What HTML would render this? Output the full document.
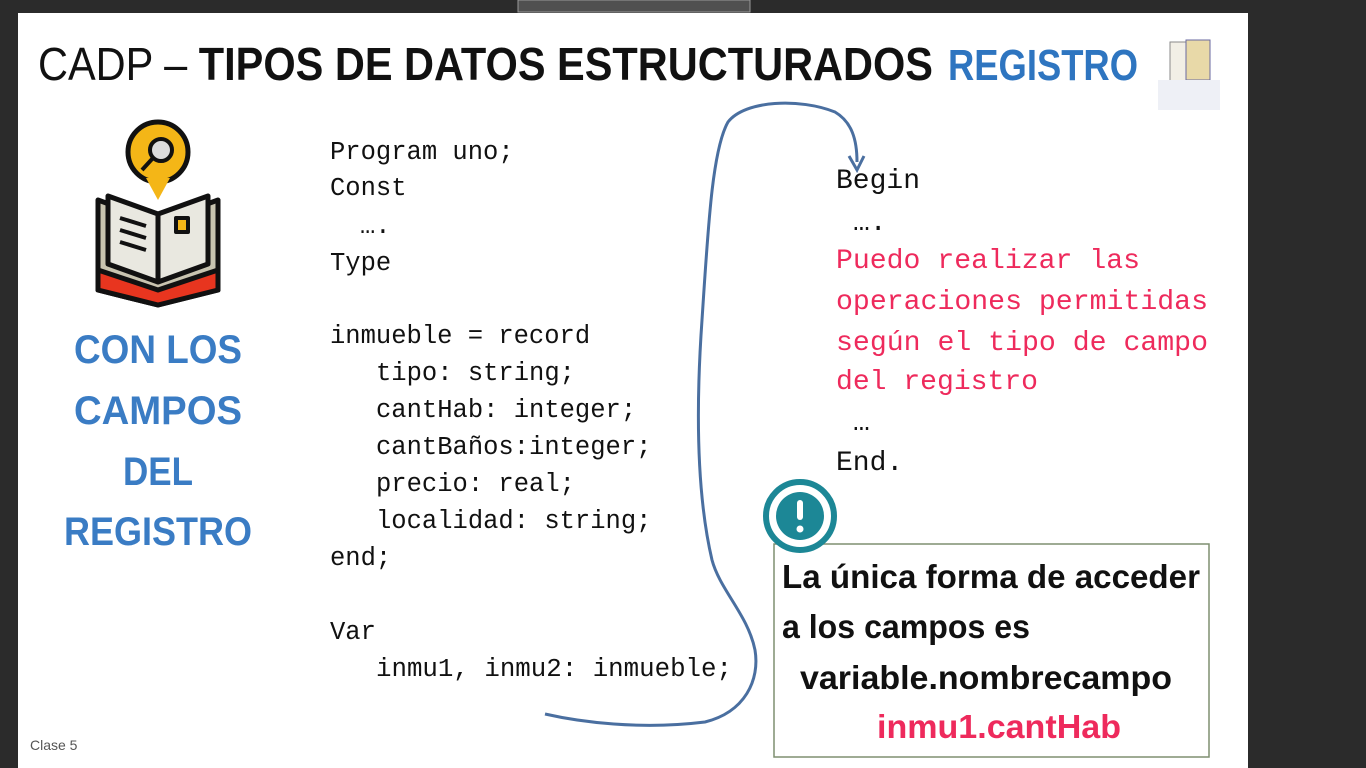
<!DOCTYPE html>
<html><head><meta charset="utf-8"><style>
html,body{margin:0;padding:0;background:#2b2b2b;width:1366px;height:768px;overflow:hidden}
svg{display:block}
svg text{white-space:pre}
.mono{font-family:"Liberation Mono",monospace;}
.cal{font-family:"Liberation Sans",sans-serif;}
</style></head><body>
<svg width="1366" height="768" viewBox="0 0 1366 768" xmlns="http://www.w3.org/2000/svg">
<rect x="0" y="0" width="1366" height="768" fill="#2b2b2b"/>
<rect x="518" y="0" width="232" height="12" fill="#505050" stroke="#9a9a9a" stroke-width="1"/>
<rect x="18" y="13" width="1230" height="755" fill="#ffffff"/>
<text class="cal" x="38" y="80" font-size="46" fill="#111" textLength="895" lengthAdjust="spacingAndGlyphs">CADP – <tspan font-weight="bold">TIPOS DE DATOS ESTRUCTURADOS</tspan></text>
<text class="cal" x="948" y="80" font-size="44" font-weight="bold" fill="#2e75c0" textLength="190" lengthAdjust="spacingAndGlyphs">REGISTRO</text>
<rect x="1170" y="42" width="26" height="42" fill="#f2efe6" stroke="#8a8a8a"/>
<rect x="1186" y="40" width="24" height="40" fill="#e8d9a8" stroke="#6a6aa0"/>
<rect x="1158" y="80" width="62" height="30" fill="#eef0f6"/>
<g stroke="#111" stroke-width="5" stroke-linejoin="round">
<path d="M98 200 L158 222 L218 200 L218 290 L158 305 L98 290 Z" fill="#c8c4b0"/>
<path d="M98 270 L158 290 L218 270 L218 290 L158 305 L98 290 Z" fill="#e8351f"/>
<path d="M108 196 L158 214 L158 282 L108 264 Z" fill="#e9e8e0"/>
<path d="M208 196 L158 214 L158 282 L208 264 Z" fill="#e9e8e0"/>
<circle cx="158" cy="152" r="30" fill="#f4b617"/>
<path d="M146 178 L158 200 L170 178 Z" fill="#f4b617" stroke="none"/>
<circle cx="161" cy="150" r="11" fill="#dcdcdc" stroke-width="4"/>
<line x1="153" y1="158" x2="142" y2="170" stroke-width="4"/>
<line x1="120" y1="218" x2="146" y2="226" stroke-width="4"/>
<line x1="120" y1="230" x2="146" y2="238" stroke-width="4"/>
<line x1="120" y1="242" x2="146" y2="250" stroke-width="4"/>
<rect x="176" y="218" width="12" height="14" fill="#f4b617" stroke-width="4"/>
</g>
<g class="cal" font-weight="bold" fill="#3a7cc4" font-size="40" text-anchor="middle">
<text x="158" y="363" textLength="168" lengthAdjust="spacingAndGlyphs">CON LOS</text>
<text x="158" y="424" textLength="168" lengthAdjust="spacingAndGlyphs">CAMPOS</text>
<text x="158" y="485" textLength="70" lengthAdjust="spacingAndGlyphs">DEL</text>
<text x="158" y="545" textLength="188" lengthAdjust="spacingAndGlyphs">REGISTRO</text>
</g>
<g class="mono" font-size="25.5" fill="#111">
<text x="330" y="159">Program uno;</text>
<text x="330" y="195">Const</text>
<text x="360" y="233">….</text>
<text x="330" y="270">Type</text>
<text x="330" y="343">inmueble = record</text>
<text x="376" y="380">tipo: string;</text>
<text x="376" y="417">cantHab: integer;</text>
<text x="376" y="454">cantBaños:integer;</text>
<text x="376" y="491">precio: real;</text>
<text x="376" y="528">localidad: string;</text>
<text x="330" y="565">end;</text>
<text x="330" y="639">Var</text>
<text x="376" y="676" textLength="356" lengthAdjust="spacingAndGlyphs">inmu1, inmu2: inmueble;</text>
</g>
<g class="mono" font-size="28" fill="#111">
<text x="836" y="188">Begin</text>
<text x="853" y="230">….</text>
<text x="853" y="430">…</text>
<text x="836" y="470">End.</text>
</g>
<g class="mono" font-size="28" fill="#ee2a5c">
<text x="836" y="268" textLength="304" lengthAdjust="spacingAndGlyphs">Puedo realizar las</text>
<text x="836" y="309" textLength="372" lengthAdjust="spacingAndGlyphs">operaciones permitidas</text>
<text x="836" y="350" textLength="372" lengthAdjust="spacingAndGlyphs">según el tipo de campo</text>
<text x="836" y="389" textLength="202" lengthAdjust="spacingAndGlyphs">del registro</text>
</g>
<path d="M545 714 C580 722 640 730 705 722 C745 712 760 680 755 650 C748 615 720 590 712 560 C698 500 695 420 702 320 C708 230 712 150 728 122 C745 100 800 98 835 112 C852 122 857 140 857 162" fill="none" stroke="#4a6fa0" stroke-width="3"/>
<path d="M849 156 L857 170 L864 156" fill="none" stroke="#4a6fa0" stroke-width="3"/>
<rect x="774" y="544" width="435" height="213" fill="#fff" stroke="#7f8f70" stroke-width="1.5"/>
<circle cx="800" cy="516" r="36" fill="#fff"/>
<circle cx="800" cy="516" r="34" fill="none" stroke="#1c8796" stroke-width="6"/>
<circle cx="800" cy="516" r="24" fill="#1c8796"/>
<rect x="797" y="500" width="6" height="20" rx="3" fill="#fff"/>
<circle cx="800" cy="529" r="3.5" fill="#fff"/>
<g class="cal" font-weight="bold" font-size="33" fill="#111">
<text x="782" y="588" textLength="418" lengthAdjust="spacingAndGlyphs">La única forma de acceder</text>
<text x="782" y="638" textLength="248" lengthAdjust="spacingAndGlyphs">a los campos es</text>
<text x="800" y="689" textLength="372" lengthAdjust="spacingAndGlyphs">variable.nombrecampo</text>
<text x="877" y="738" fill="#ee2a5c" textLength="244" lengthAdjust="spacingAndGlyphs">inmu1.cantHab</text>
</g>
<text class="cal" x="30" y="750" font-size="14" fill="#555">Clase 5</text>
</svg>
</body></html>
